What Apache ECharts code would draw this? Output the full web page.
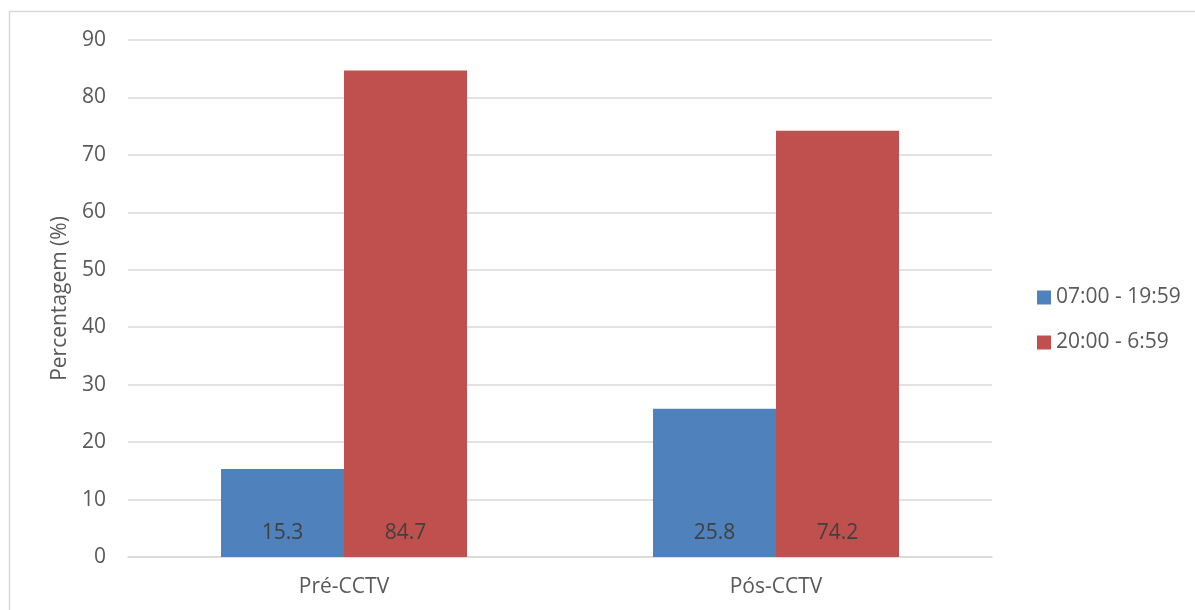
<!DOCTYPE html>
<html>
<head>
<meta charset="utf-8">
<script src="https://cdn.jsdelivr.net/npm/echarts@6/dist/echarts.min.js"></script>
<style>html,body{margin:0;padding:0;background:#fff}#c{width:1195px;height:610px}</style>
</head>
<body>
<div id="c"></div>
<script>
const categories = ['Pré-CCTV', 'Pós-CCTV'];
const seriesNames = ['07:00 - 19:59', '20:00 - 6:59'];
const dayValues = [15.3, 25.8];
const nightValues = [84.7, 74.2];
const yTicks = [0, 10, 20, 30, 40, 50, 60, 70, 80, 90];

const font = 'Open Sans';
const txt = '#595959';
const fs = 21;
const chart = echarts.init(document.getElementById('c'), null, {renderer: 'canvas'});
const lbl = {show: true, position: 'insideBottom', distance: 13, color: '#404040', fontSize: fs, fontFamily: font};
chart.setOption({
  animation: false,
  textStyle: {fontFamily: font},
  graphic: [{type: 'rect', shape: {x: 9.5, y: 11.5, width: 1200, height: 620}, style: {fill: 'none', stroke: '#D9D9D9', lineWidth: 1.5}, silent: true}],
  grid: {left: 128, right: 203, top: 40, bottom: 53},
  legend: {
    orient: 'vertical', left: 1032, top: 282, itemWidth: 14, itemHeight: 14, itemGap: 24,
    icon: 'rect',
    textStyle: {color: txt, fontSize: fs, fontFamily: font},
    data: seriesNames
  },
  xAxis: {
    type: 'category', data: categories,
    axisLine: {lineStyle: {color: '#D9D9D9', width: 1.5}},
    axisTick: {show: false},
    axisLabel: {color: txt, fontSize: fs, fontFamily: font, margin: 20}
  },
  yAxis: {
    type: 'value', min: yTicks[0], max: yTicks[yTicks.length - 1], interval: 10,
    name: 'Percentagem (%)', nameLocation: 'middle', nameGap: 57,
    nameTextStyle: {color: txt, fontSize: fs, fontFamily: font},
    axisLine: {show: false}, axisTick: {show: false},
    axisLabel: {color: txt, fontSize: fs, fontFamily: font, margin: 22},
    splitLine: {lineStyle: {color: '#D9D9D9', width: 1.5}}
  },
  series: [
    {name: seriesNames[0], type: 'bar', data: dayValues, barWidth: 123, barGap: '0%', itemStyle: {color: '#4F81BD'}, label: lbl},
    {name: seriesNames[1], type: 'bar', data: nightValues, barWidth: 123, barGap: '0%', itemStyle: {color: '#C0504D'}, label: lbl}
  ]
});
</script>
</body>
</html>
